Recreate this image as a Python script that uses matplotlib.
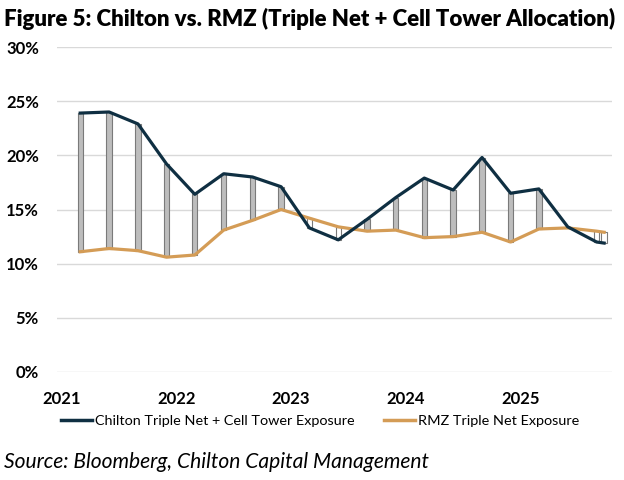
import matplotlib
matplotlib.use("Agg")
import matplotlib.pyplot as plt
import numpy as np
import pandas as pd
from matplotlib.lines import Line2D

plt.rcParams['font.family'] = ['Lato', 'DejaVu Sans']

dates = ["2021-03-01", "2021-06-01", "2021-09-01", "2021-12-01",
         "2022-03-01", "2022-06-01", "2022-09-01", "2022-12-01",
         "2023-03-01", "2023-06-01", "2023-09-01", "2023-12-01",
         "2024-03-01", "2024-06-01", "2024-09-01", "2024-12-01",
         "2025-03-01", "2025-06-01", "2025-09-01", "2025-09-25"]
chilton = [23.9, 24.0, 22.9, 19.2, 16.4, 18.3, 18.0, 17.1, 13.3, 12.2,
           14.1, 16.1, 17.9, 16.8, 19.8, 16.5, 16.9, 13.4, 12.0, 11.9]
rmz = [11.1, 11.4, 11.2, 10.6, 10.8, 13.1, 14.0, 15.0, 14.2, 13.4,
       13.0, 13.1, 12.4, 12.5, 12.9, 12.0, 13.2, 13.3, 13.0, 12.9]
year_ticks = ["2021-01-01", "2022-01-01", "2023-01-01", "2024-01-01", "2025-01-01"]
year_labels = ["2021", "2022", "2023", "2024", "2025"]
y_ticks = [0, 5, 10, 15, 20, 25, 30]

title = "Figure 5: Chilton vs. RMZ (Triple Net + Cell Tower Allocation)"
source = "Source: Bloomberg, Chilton Capital Management"
series_names = ["Chilton Triple Net + Cell Tower Exposure", "RMZ Triple Net Exposure"]

navy = "#0F2F42"
gold = "#D49C56"

x = pd.to_datetime(dates)
c = np.array(chilton)
r = np.array(rmz)

fig = plt.figure(figsize=(6.24, 4.8), dpi=100)
renderer = fig.canvas.get_renderer()


def fit_size(text, target_px, **kw):
    t = fig.text(0, 0, text, fontsize=10, **kw)
    w = t.get_window_extent(renderer).width
    t.remove()
    return 10 * target_px / w


ax = fig.add_axes([57/624, 1-372/480, (612-57)/624, (372-47)/480])

# up/down bars
lo = np.minimum(c, r)
hi = np.maximum(c, r)
up = c >= r
face = np.where(up, "#BDBDBD", "#FFFFFF")
ax.bar(x, hi - lo, bottom=lo, width=17, color=face, edgecolor="#7A7A7A",
       linewidth=0.8, zorder=2)

ax.plot(x, r, color=gold, lw=2.3, zorder=3, solid_joinstyle='round')
ax.plot(x, c, color=navy, lw=2.3, zorder=4, solid_joinstyle='round')

ax.set_ylim(0, 30)
ax.set_yticks(y_ticks)
ax.set_yticklabels([f"{v}%" for v in y_ticks])
ax.set_xlim(pd.Timestamp("2020-12-17"), pd.Timestamp("2025-10-20"))
ax.set_xticks(pd.to_datetime(year_ticks))
ax.set_xticklabels(year_labels)
ax.grid(axis='y', color="#D9D9D9", lw=1.0, zorder=0)
ax.set_axisbelow(True)
for s in ax.spines.values():
    s.set_visible(False)
ax.tick_params(length=0)
ax.tick_params(axis='y', pad=13)
ax.tick_params(axis='x', pad=14)
for lab in ax.get_yticklabels() + ax.get_xticklabels():
    lab.set_fontweight('bold')
    lab.set_fontsize(12)
    lab.set_color("#000000")

ts = fit_size(title, 614, fontweight='heavy')
fig.text(4/624, 1-19/480, title, fontsize=ts, fontweight='heavy', va='center', ha='left')
ss = fit_size(source, 426, style='italic')
fig.text(4/624, 1-462/480, source, fontsize=ss, style='italic', va='center', ha='left')

ls = fit_size(series_names[0], 261)
fs_px = ls * 100 / 72
handles = [Line2D([], [], color=navy, lw=2.5), Line2D([], [], color=gold, lw=2.5)]
fig.legend(handles, series_names, loc='center', bbox_to_anchor=(320/624, 1-421/480),
           ncol=2, frameon=False, fontsize=ls, handlelength=31/fs_px,
           handletextpad=3/fs_px, columnspacing=30/fs_px, borderpad=0)

fig.savefig("out.png", dpi=100)
